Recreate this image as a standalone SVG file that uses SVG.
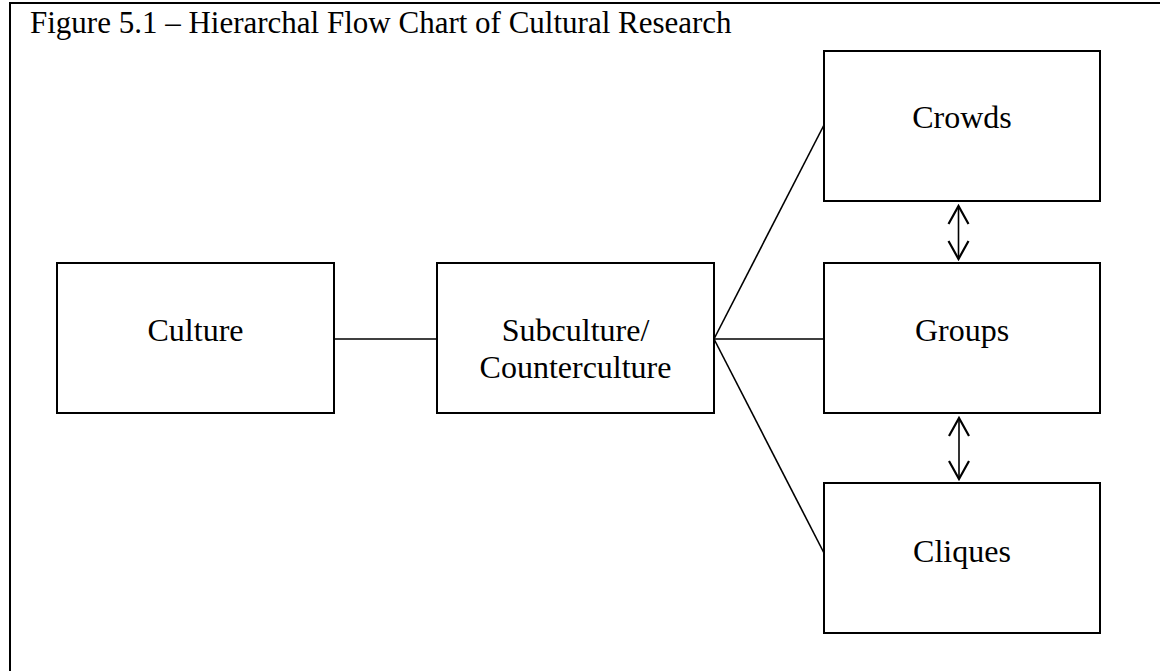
<svg xmlns="http://www.w3.org/2000/svg" width="1160" height="671" viewBox="0 0 1160 671">
<style>
.box{fill:#fff;stroke:#000;stroke-width:2}
.lbl{font-family:"Liberation Serif","Times New Roman",serif;font-size:32px;fill:#000;text-anchor:middle}
.title{font-family:"Liberation Serif","Times New Roman",serif;font-size:31px;fill:#000}
.conn{fill:none;stroke:#000;stroke-width:1.6}
</style>
<defs>
<marker id="arr" markerUnits="userSpaceOnUse" viewBox="-20 -12 22 24" refX="0" refY="0" markerWidth="22" markerHeight="24" orient="auto-start-reverse">
<path d="M-18,-10 L0,0 L-18,10" fill="none" stroke="#000" stroke-width="2.2"/>
</marker>
</defs>
<rect width="1160" height="671" fill="#fff"/>
<path d="M10,671 V3 H1160" fill="none" stroke="#000" stroke-width="2"/>
<text class="title" x="30" y="33">Figure 5.1 – Hierarchal Flow Chart of Cultural Research</text>
<g id="connectors">
<line class="conn" x1="334" y1="339" x2="437" y2="339"/>
<line class="conn" x1="714" y1="339" x2="824" y2="339"/>
<line class="conn" x1="714" y1="339" x2="824" y2="125"/>
<line class="conn" x1="714" y1="339" x2="824" y2="553"/>
<line class="conn" x1="958.5" y1="206" x2="958.5" y2="259" marker-start="url(#arr)" marker-end="url(#arr)"/>
<line class="conn" x1="959" y1="418" x2="959" y2="479" marker-start="url(#arr)" marker-end="url(#arr)"/>
</g>
<g id="culture">
<rect class="box" x="57" y="263" width="277" height="150"/>
<text class="lbl" x="195.5" y="341">Culture</text>
</g>
<g id="subculture">
<rect class="box" x="437" y="263" width="277" height="150"/>
<text class="lbl" x="575.5" y="341">Subculture/</text>
<text class="lbl" x="575.5" y="378">Counterculture</text>
</g>
<g id="crowds">
<rect class="box" x="824" y="51" width="276" height="150"/>
<text class="lbl" x="962" y="128">Crowds</text>
</g>
<g id="groups">
<rect class="box" x="824" y="263" width="276" height="150"/>
<text class="lbl" x="962" y="341">Groups</text>
</g>
<g id="cliques">
<rect class="box" x="824" y="483" width="276" height="150"/>
<text class="lbl" x="962" y="562">Cliques</text>
</g>
</svg>
